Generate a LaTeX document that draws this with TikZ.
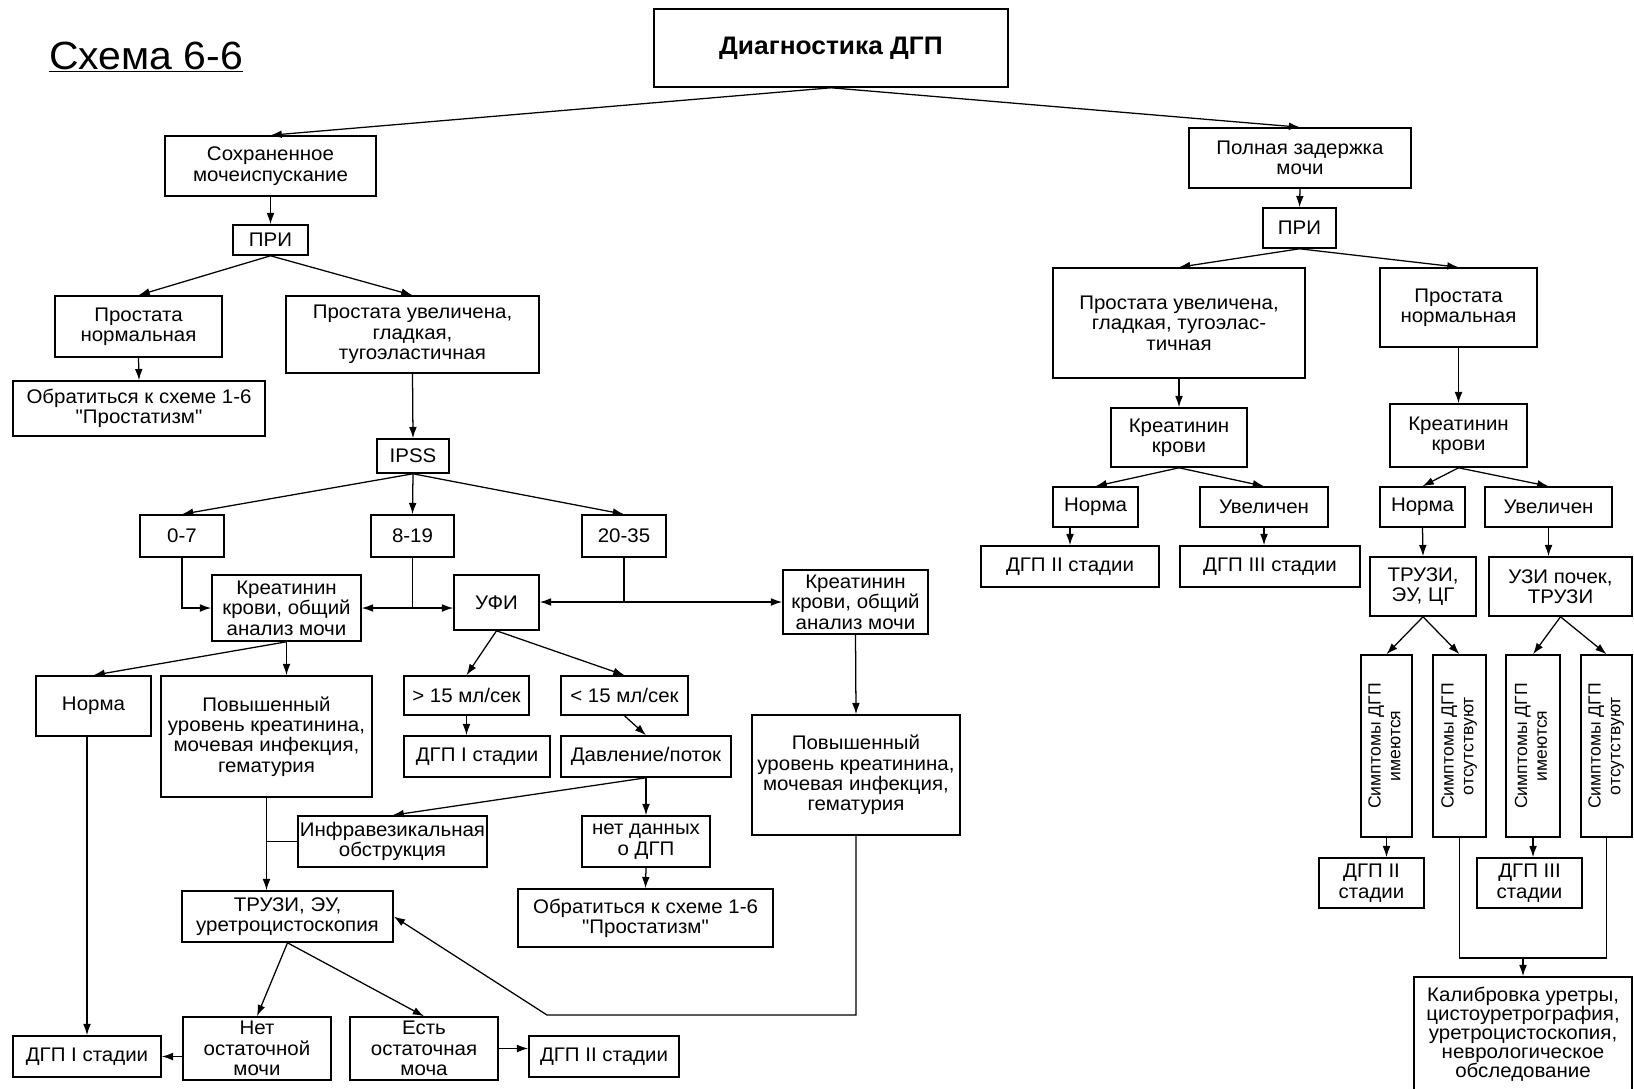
\documentclass[tikz,border=0pt]{standalone}
\usepackage{fontspec}
\setmainfont{Liberation Sans}[FakeStretch=1.04]
\newfontfamily\boxfont{Liberation Sans}[FakeStretch=1.04]
\newfontfamily\symfont{Liberation Sans}
\usepackage{tikz}
\usetikzlibrary{arrows.meta}

\begin{document}
\begin{tikzpicture}%
                    [x=0.025cm, y=-0.025cm,
                    box/.style={draw, line width=1.1pt, align=center, inner xsep=1pt, inner ysep=2pt,
                                font=\boxfont\fontsize{14}{14.5}\selectfont},
                    symbox/.style={draw, line width=1.1pt, inner sep=0pt, minimum height=4.55cm},
                    link/.style={line width=0.9pt},
                    arr/.style={line width=0.9pt, -{Latex[length=8pt,width=5.5pt]}},
                    twoarr/.style={line width=0.9pt, {Latex[length=8pt,width=5.5pt]}-{Latex[length=8pt,width=5.5pt]}}]
                \useasboundingbox (0,0) rectangle (1634,1088);
                %% Title and root
                \node[font=\fontsize{28}{30}\selectfont, inner sep=0pt] (title) at (146,57) {\underline{Схема 6-6}};
                \node[box, minimum width=8.85cm, minimum height=1.95cm, font=\boxfont\fontsize{18}{20}\selectfont\bfseries] (diag) at (831,48) {Диагностика ДГП};
                %%
                %% Left branch
                %%
                \node[box, minimum width=5.275cm, minimum height=1.5cm] (sohr) at (270.5,166) {Сохраненное\\мочеиспускание};
                \node[box, minimum width=1.875cm, minimum height=0.75cm] (pri1) at (270.5,240) {ПРИ};
                \node[box, minimum width=4.175cm, minimum height=1.525cm] (prnL) at (138.5,326.5) {Простата\\нормальная};
                \node[box, minimum width=6.325cm, minimum height=1.925cm] (pruL) at (412.5,334.5) {Простата увеличена,\\гладкая,\\тугоэластичная};
                \node[box, minimum width=6.3cm, minimum height=1.375cm] (obrL) at (139,408.5) {Обратиться к схеме 1-6\\"Простатизм"};
                \node[box, minimum width=1.8cm, minimum height=0.85cm] (ipss) at (413,456) {IPSS};
                \node[box, minimum width=2.1cm, minimum height=1.05cm] (s07) at (182,536) {0-7};
                \node[box, minimum width=2.075cm, minimum height=1.05cm] (s819) at (412.5,536) {8-19};
                \node[box, minimum width=2.1cm, minimum height=1.05cm] (s2035) at (624,536) {20-35};
                \node[box, minimum width=3.725cm, minimum height=1.65cm] (kreL) at (286.5,608) {Креатинин\\крови, общий\\анализ мочи};
                \node[box, minimum width=2.125cm, minimum height=1.375cm] (ufi) at (496.5,602.5) {УФИ};
                \node[box, minimum width=3.625cm, minimum height=1.6cm] (kreR) at (855.5,602) {Креатинин\\крови, общий\\анализ мочи};
                \node[box, minimum width=2.875cm, minimum height=1.5cm] (normaL) at (93.5,706) {Норма};
                \node[box, minimum width=5.275cm, minimum height=3.025cm] (povL) at (266.5,736.5) {Повышенный\\уровень креатинина,\\мочевая инфекция,\\гематурия};
                \node[box, minimum width=3.125cm, minimum height=0.975cm] (gt15) at (466.5,695.5) {> 15 мл/сек};
                \node[box, minimum width=3.175cm, minimum height=0.975cm] (lt15) at (624.5,695.5) {< 15 мл/сек};
                \node[box, minimum width=3.65cm, minimum height=1.025cm] (dgp1m) at (477,756.5) {ДГП I стадии};
                \node[box, minimum width=4.25cm, minimum height=1.025cm] (davl) at (646,756.5) {Давление/поток};
                \node[box, minimum width=4.725cm, minimum height=1.275cm] (infra) at (392.5,841.5) {Инфравезикальная\\обструкция};
                \node[box, minimum width=3.2cm, minimum height=1.275cm] (netd) at (646,841.5) {нет данных\\о ДГП};
                \node[box, minimum width=6.375cm, minimum height=1.45cm] (obrM) at (645.5,918) {Обратиться к схеме 1-6\\"Простатизм"};
                \node[box, minimum width=5.2cm, minimum height=3cm] (povR) at (856,775) {Повышенный\\уровень креатинина,\\мочевая инфекция,\\гематурия};
                \node[box, minimum width=5.275cm, minimum height=1.275cm] (trL) at (287.5,916.5) {ТРУЗИ, ЭУ,\\уретроцистоскопия};
                \node[box, minimum width=3.7cm, minimum height=1.025cm] (dgp1b) at (87,1056.5) {ДГП I стадии};
                \node[box, minimum width=3.7cm, minimum height=1.575cm] (net) at (257,1048.5) {Нет\\остаточной\\мочи};
                \node[box, minimum width=3.7cm, minimum height=1.575cm] (est) at (424,1048.5) {Есть\\остаточная\\моча};
                \node[box, minimum width=3.75cm, minimum height=1.025cm] (dgp2b) at (604,1056.5) {ДГП II стадии};
                %%
                %% Right branch
                %%
                \node[box, minimum width=5.55cm, minimum height=1.5cm] (poln) at (1300,158) {Полная задержка\\мочи};
                \node[box, minimum width=1.825cm, minimum height=1cm] (pri2) at (1299.5,228) {ПРИ};
                \node[box, minimum width=6.3cm, minimum height=2.75cm] (pruR) at (1179,323) {Простата увеличена,\\гладкая, тугоэлас-\\тичная};
                \node[box, minimum width=3.925cm, minimum height=1.975cm] (prnR) at (1458.5,307.5) {Простата\\нормальная};
                \node[box, minimum width=3.4cm, minimum height=1.475cm] (kr1) at (1179,437.5) {Креатинин\\крови};
                \node[box, minimum width=3.425cm, minimum height=1.575cm] (kr2) at (1458.5,435.5) {Креатинин\\крови};
                \node[box, minimum width=2.125cm, minimum height=1cm] (norm1) at (1095.5,507) {Норма};
                \node[box, minimum width=3.2cm, minimum height=1cm] (uv1) at (1264,507) {Увеличен};
                \node[box, minimum width=2.125cm, minimum height=1cm] (norm2) at (1422.5,507) {Норма};
                \node[box, minimum width=3.175cm, minimum height=1cm] (uv2) at (1548.5,507) {Увеличен};
                \node[box, minimum width=4.45cm, minimum height=1.025cm] (dgp2r) at (1070,566.5) {ДГП II стадии};
                \node[box, minimum width=4.5cm, minimum height=1.025cm] (dgp3r) at (1270,566.5) {ДГП III стадии};
                \node[box, minimum width=2.65cm, minimum height=1.475cm] (tr2) at (1423,586.5) {ТРУЗИ,\\ЭУ, ЦГ};
                \node[box, minimum width=3.575cm, minimum height=1.475cm] (uzi) at (1560.5,586.5) {УЗИ почек,\\ТРУЗИ};
                \node[symbox, minimum width=1.275cm] (sim1) at (1386.5,746) {\rotatebox{90}{\symfont\fontsize{12.5}{14}\selectfont\begin{tabular}{@{}c@{}}Симптомы ДГП\\имеются\end{tabular}}};
                \node[symbox, minimum width=1.325cm] (sim2) at (1459.5,746) {\rotatebox{90}{\symfont\fontsize{12.5}{14}\selectfont\begin{tabular}{@{}c@{}}Симптомы ДГП\\отсутствуют\end{tabular}}};
                \node[symbox, minimum width=1.35cm] (sim3) at (1533,746) {\rotatebox{90}{\symfont\fontsize{12.5}{14}\selectfont\begin{tabular}{@{}c@{}}Симптомы ДГП\\имеются\end{tabular}}};
                \node[symbox, minimum width=1.275cm] (sim4) at (1606.5,746) {\rotatebox{90}{\symfont\fontsize{12.5}{14}\selectfont\begin{tabular}{@{}c@{}}Симптомы ДГП\\отсутствуют\end{tabular}}};
                \node[box, minimum width=2.625cm, minimum height=1.25cm] (dgp2s) at (1371.5,883) {ДГП II\\стадии};
                \node[box, minimum width=2.625cm, minimum height=1.25cm] (dgp3s) at (1529.5,883) {ДГП III\\стадии};
                \node[box, minimum width=5.45cm, minimum height=2.875cm, font=\boxfont\fontsize{14}{13.5}\selectfont] (kal) at (1523,1034.5) {Калибровка уретры,\\цистоуретрография,\\уретроцистоскопия,\\неврологическое\\обследование};
                %%
                %% Connectors, left
                %%
                \draw[arr] (diag.south) -- (sohr.north);
                \draw[arr] (diag.south) -- (poln.north);
                \draw[arr] (sohr.south) -- (pri1.north);
                \draw[arr] (pri1.south) -- (prnL.north);
                \draw[arr] (pri1.south) -- (pruL.north);
                \draw[arr] (prnL.south) -- (obrL.north);
                \draw[arr] (pruL.south) -- (ipss.north);
                \foreach \n in {s07,s819,s2035}
                    \draw[arr] (ipss.south) -- (\n.north);
                \draw[arr] (s07.south) |- (kreL.west);
                \coordinate (j819) at (s819.south |- kreL.west);
                \draw[link] (s819.south) -- (j819);
                \draw[arr] (j819) -- (kreL.east);
                \draw[arr] (j819) -- (j819 -| ufi.west);
                \coordinate (j2035) at (s2035.south |- kreR.west);
                \draw[link] (s2035.south) -- (j2035);
                \draw[twoarr] (j2035 -| ufi.east) -- (kreR.west);
                \draw[arr] (kreL.south) -- (normaL.north);
                \draw[arr] (kreL.south) -- (kreL.south |- povL.north);
                \draw[arr] (ufi.south) -- (gt15.north);
                \draw[arr] (ufi.south) -- (lt15.north);
                \draw[arr] (gt15.south) -- (gt15.south |- dgp1m.north);
                \draw[arr] (lt15.south) -- (davl.north);
                \draw[arr] (davl.south) -- (infra.north);
                \draw[arr] (davl.south) -- (netd.north);
                \draw[arr] (netd.south) -- (obrM.north);
                \draw[arr] (kreR.south) -- (povR.north);
                \coordinate (bend) at (547,1015);
                \draw[arr] (povR.south) |- (bend) -- (trL.east);
                \draw[arr] (povL.south) -- (povL.south |- trL.north);
                \draw[link] (infra.west) -- (infra.west -| povL.south);
                \draw[arr] (dgp1b.north |- normaL.south) -- (dgp1b.north);
                \draw[arr] (trL.south) -- (net.north);
                \draw[arr] (trL.south) -- (est.north);
                \draw[arr] (net.west |- dgp1b.east) -- (dgp1b.east);
                \draw[arr] (est.east) -- (est.east -| dgp2b.west);
                %%
                %% Connectors, right
                %%
                \draw[arr] (poln.south) -- (pri2.north);
                \draw[arr] (pri2.south) -- (pruR.north);
                \draw[arr] (pri2.south) -- (prnR.north);
                \draw[arr] (pruR.south) -- (kr1.north);
                \draw[arr] (prnR.south) -- (kr2.north);
                \draw[arr] (kr1.south) -- (norm1.north);
                \draw[arr] (kr1.south) -- (uv1.north);
                \draw[arr] (kr2.south) -- (norm2.north);
                \draw[arr] (kr2.south) -- (uv2.north);
                \draw[arr] (dgp2r.north |- norm1.south) -- (dgp2r.north);
                \draw[arr] (uv1.south) -- (uv1.south |- dgp3r.north);
                \draw[arr] (norm2.south) -- (tr2.north);
                \draw[arr] (uv2.south) -- (uv2.south |- uzi.north);
                \draw[arr] (tr2.south) -- (sim1.north);
                \draw[arr] (tr2.south) -- (sim2.north);
                \draw[arr] (uzi.south) -- (sim3.north);
                \draw[arr] (uzi.south) -- (sim4.north);
                \draw[arr] (sim1.south) -- (sim1.south |- dgp2s.north);
                \draw[arr] (sim3.south) -- (sim3.south |- dgp3s.north);
                \coordinate (jk) at (1523,958);
                \draw[link] (sim2.south) |- (jk) -| (sim4.south);
                \draw[arr] (jk) -- (kal.north);
\end{tikzpicture}
\end{document}
